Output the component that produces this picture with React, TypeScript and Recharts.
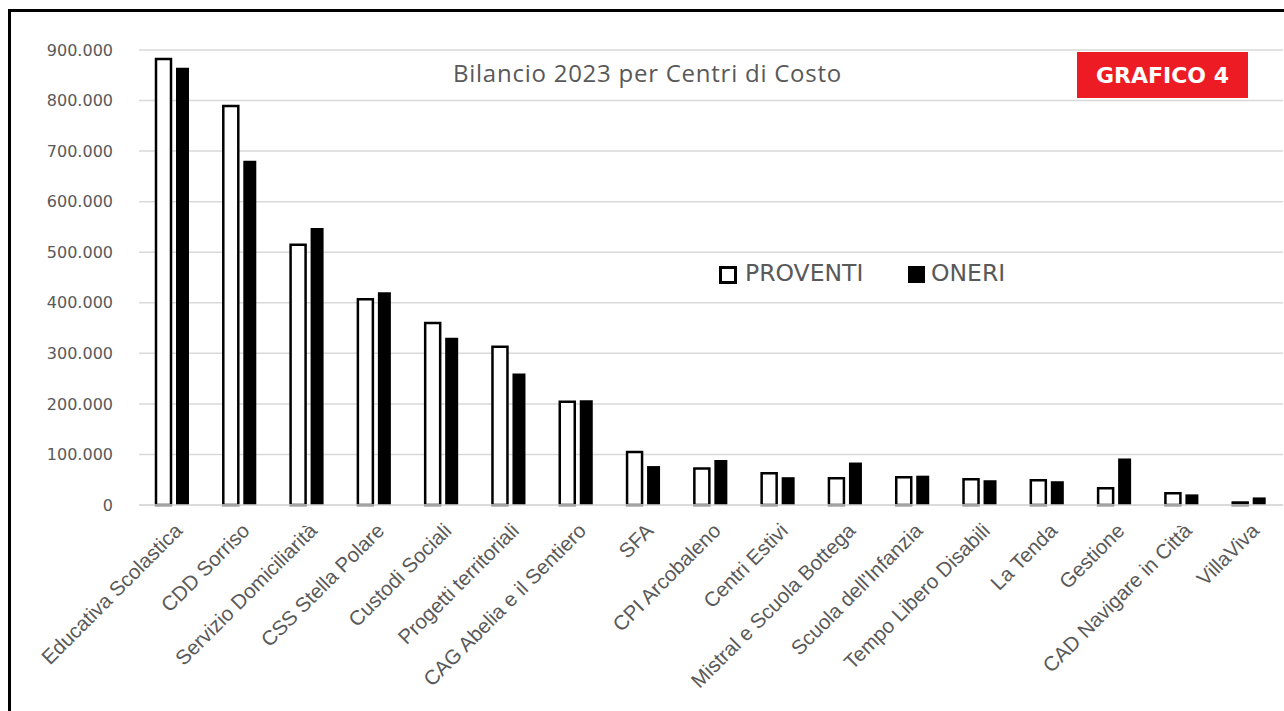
import { BarChart, Bar, XAxis, YAxis, CartesianGrid } from 'recharts';

const categories = [
  'Educativa Scolastica', 'CDD Sorriso', 'Servizio Domiciliarità', 'CSS Stella Polare',
  'Custodi Sociali', 'Progetti territoriali', 'CAG Abelia e il Sentiero', 'SFA',
  'CPI Arcobaleno', 'Centri Estivi', 'Mistral e Scuola Bottega', "Scuola dell'Infanzia",
  'Tempo Libero Disabili', 'La Tenda', 'Gestione', 'CAD Navigare in Città', 'VillaViva',
];
const proventi = [882000, 789000, 515000, 407000, 360000, 313000, 204000, 105000, 72000, 63000, 53000, 55000, 51000, 49000, 33000, 23000, 5000];
const oneri = [865000, 681000, 548000, 421000, 331000, 260000, 207000, 77000, 89000, 55000, 84000, 58000, 49000, 47000, 92000, 21000, 15000];
const yTicks = [0, 100000, 200000, 300000, 400000, 500000, 600000, 700000, 800000, 900000];

const data = categories.map((name, i) => ({ name, PROVENTI: proventi[i], ONERI: oneri[i] }));

const GRAY = '#595959';
const fmt = (v: number) => String(v).replace(/\B(?=(\d{3})+(?!\d))/g, '.');

const XTick = ({ x, y, payload }: any) => {
  const ax = x + 11;
  const ay = y + 27;
  return (
    <text x={ax} y={ay} transform={`rotate(-45, ${ax}, ${ay})`} textAnchor="end"
      fill={GRAY} fontSize={20.5} fontFamily="Liberation Sans, Arial, sans-serif">
      {payload.value}
    </text>
  );
};

const legendText = { position: 'absolute' as const, top: 259, fontFamily: 'DejaVu Sans, sans-serif', fontSize: 23.5, color: GRAY, lineHeight: '28px' };

export default function App() {
  return (
    <div style={{ position: 'fixed', left: 0, top: 0, width: 1284, height: 711, background: '#fff', overflow: 'hidden' }}>
      {/* frame */}
      <div style={{ position: 'absolute', left: 8, top: 9, width: 1300, height: 760, border: '3px solid #000' }} />
      <div style={{ position: 'absolute', left: 0, top: 0 }}>
        <BarChart width={1284} height={711} data={data} barGap={5}
          margin={{ top: 50, right: 1, left: 0, bottom: 0 }}>
          <CartesianGrid vertical={false} stroke="#d9d9d9" strokeWidth={1.5} />
          <XAxis dataKey="name" interval={0} height={206} tickLine={false} tickSize={0} tickMargin={0}
            axisLine={{ stroke: '#d9d9d9', strokeWidth: 1.5 }} tick={<XTick />} />
          <YAxis width={139} domain={[0, 900000]} ticks={yTicks} tickFormatter={fmt} axisLine={false}
            tickLine={false} tickSize={0} tickMargin={26}
            tick={{ fill: GRAY, fontSize: 16, fontFamily: 'DejaVu Sans, sans-serif' }} />
          <Bar dataKey="PROVENTI" fill="#fff" stroke="#000" strokeWidth={2.5} barSize={15} isAnimationActive={false} />
          <Bar dataKey="ONERI" fill="#000" barSize={13} isAnimationActive={false} />
        </BarChart>
      </div>
      {/* legend */}
      <div style={{ position: 'absolute', left: 719, top: 266, width: 12, height: 12, border: '3px solid #000', background: '#fff' }} />
      <div style={{ ...legendText, left: 745 }}>PROVENTI</div>
      <div style={{ position: 'absolute', left: 908, top: 266, width: 17, height: 17, background: '#000' }} />
      <div style={{ ...legendText, left: 931 }}>ONERI</div>
      {/* title */}
      <div style={{ position: 'absolute', left: 453, top: 56, fontFamily: 'Open Sans, sans-serif', fontSize: 24, letterSpacing: 0.75,
        color: GRAY, whiteSpace: 'nowrap', lineHeight: 'normal' }}>
        Bilancio 2023 per Centri di Costo
      </div>
      <div style={{ position: 'absolute', left: 1077, top: 52, width: 171, height: 46, background: '#ED1C24', color: '#fff',
        fontFamily: 'DejaVu Sans, sans-serif', fontWeight: 'bold', fontSize: 22, display: 'flex', alignItems: 'center', justifyContent: 'center' }}>
        GRAFICO 4
      </div>
    </div>
  );
}
